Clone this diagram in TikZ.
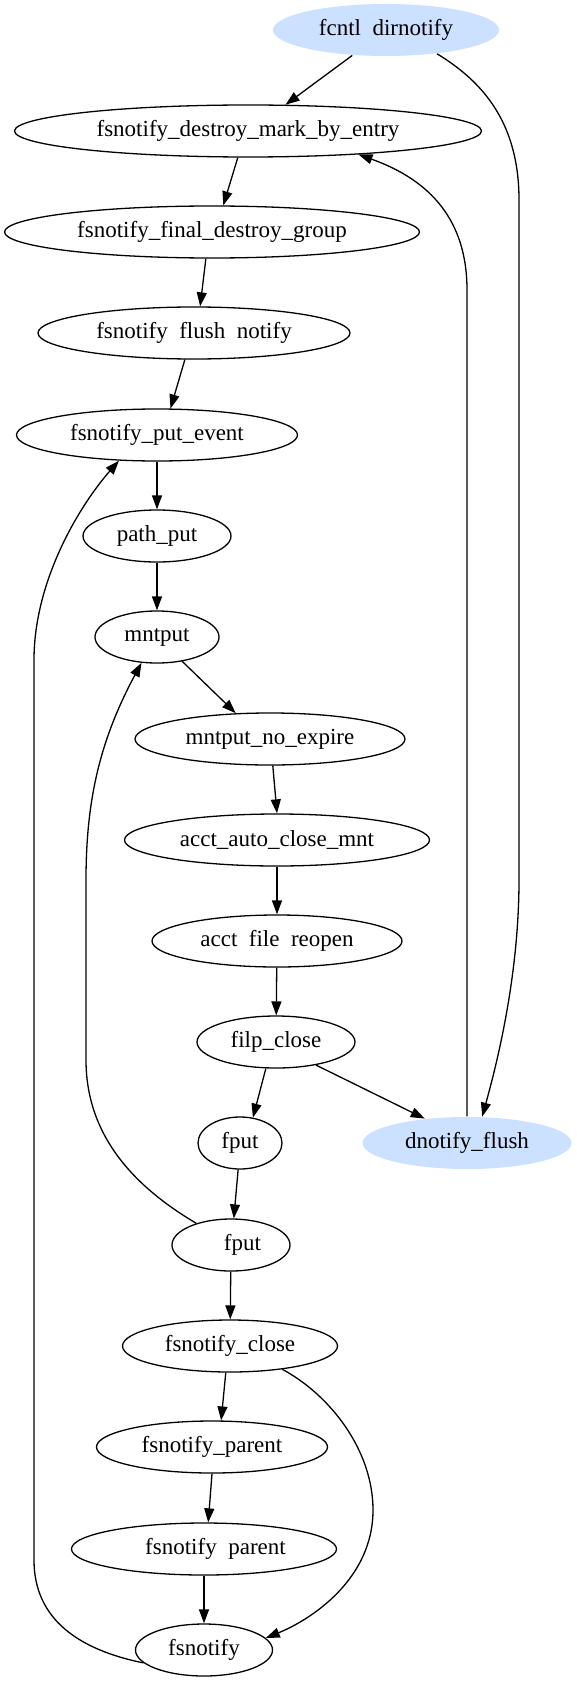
\documentclass[tikz,border=0pt]{standalone}
\usepackage{fontspec}
\setmainfont{Liberation Serif}
\usetikzlibrary{shapes.geometric,arrows.meta}
\definecolor{hl}{RGB}{204,224,255}
\newcommand{\us}{\phantom{\_}}
\tikzset{
  fn/.style={ellipse, draw, line width=1.3pt, inner sep=0pt, minimum height=52pt,
    font=\fontsize{23}{27}\selectfont},
  hot/.style={fn, draw=none, fill=hl},
  edge/.style={line width=1.3pt, -{Triangle[length=14pt,width=10pt]}},
}
\begin{document}
\begin{tikzpicture}[x=1pt,y=-1pt]
\useasboundingbox (0,0) rectangle (577,1685);
\node[hot, minimum width=226pt] (fcntl) at (386,30) {fcntl\us dirnotify};
\node[fn, minimum width=467pt] (dm) at (248,131) {fsnotify\_destroy\_mark\_by\_entry};
\node[fn, minimum width=415pt] (fg) at (212,232) {fsnotify\_final\_destroy\_group};
\node[fn, minimum width=312pt] (ffn) at (194,333) {fsnotify\us flush\us notify};
\node[fn, minimum width=281pt] (pe) at (157,435) {fsnotify\_put\_event};
\node[fn, minimum width=148pt] (pp) at (157,536) {path\_put};
\node[fn, minimum width=124pt] (mnt) at (157,637) {mntput};
\node[fn, minimum width=270pt] (mne) at (270,739) {mntput\_no\_expire};
\node[fn, minimum width=305pt] (aacm) at (277,840) {acct\_auto\_close\_mnt};
\node[fn, minimum width=250pt] (afr) at (277,941) {acct\us file\us reopen};
\node[fn, minimum width=158pt] (filp) at (276,1042) {filp\_close};
\node[fn, minimum width=84pt] (fput1) at (240,1143) {fput};
\node[hot, minimum width=209pt] (dn) at (467,1143) {dnotify\_flush};
\node[fn, minimum width=118pt] (fput2) at (231,1245) {\us\us fput};
\node[fn, minimum width=215pt] (fclose) at (230,1346) {fsnotify\_close};
\node[fn, minimum width=231pt] (fpar1) at (212,1447) {fsnotify\_parent};
\node[fn, minimum width=265pt] (fpar2) at (204,1549) {\us\us fsnotify\us parent};
\node[fn, minimum width=137pt] (fsn) at (204,1650) {fsnotify};

\draw[edge] (fcntl.-143) -- (dm.35);
\draw[edge] (dm.-111) -- (fg.67);
\draw[edge] (fg.-103) -- (ffn.77);
\draw[edge] (ffn.-109) -- (pe.63);
\draw[edge] (pe) -- (pp);
\draw[edge] (pp) -- (mnt);
\draw[edge] (mnt.-44) -- (mne.143);
\draw[edge] (mne.-84) -- (aacm.90);
\draw[edge] (aacm) -- (afr);
\draw[edge] (afr) -- (filp);
\draw[edge] (filp.-111) -- (fput1.63);
\draw[edge] (filp.-30) -- (dn.150);
\draw[edge] (fput1.-94) -- (fput2.84);
\draw[edge] (fput2) -- (fclose);
\draw[edge] (fclose.-99) -- (fpar1.71);
\draw[edge] (fpar1.-90) -- (fpar2.81);
\draw[edge] (fpar2) -- (fsn);
\draw[edge] (fclose.-24) .. controls (330,1395) and (373,1450) .. (373,1510)
  .. controls (373,1580) and (310,1620) .. (fsn.11);
\draw[edge] (fput2.148) .. controls (140,1190) and (86,1140) .. (86,1060)
  -- (86,880) .. controls (86,800) and (100,740) .. (mnt.-121);
\draw[edge] (fsn.-168) .. controls (80,1650) and (34,1620) .. (34,1560)
  -- (34,660) .. controls (34,580) and (80,505) .. (pe.-146);
\draw[edge] (fcntl.-25) .. controls (480,80) and (519,120) .. (519,200)
  -- (519,880) .. controls (519,980) and (495,1070) .. (dn.60);
\draw[edge] (dn.90) -- (467,290) .. controls (467,220) and (430,180) .. (dm.-12);
\end{tikzpicture}
\end{document}
